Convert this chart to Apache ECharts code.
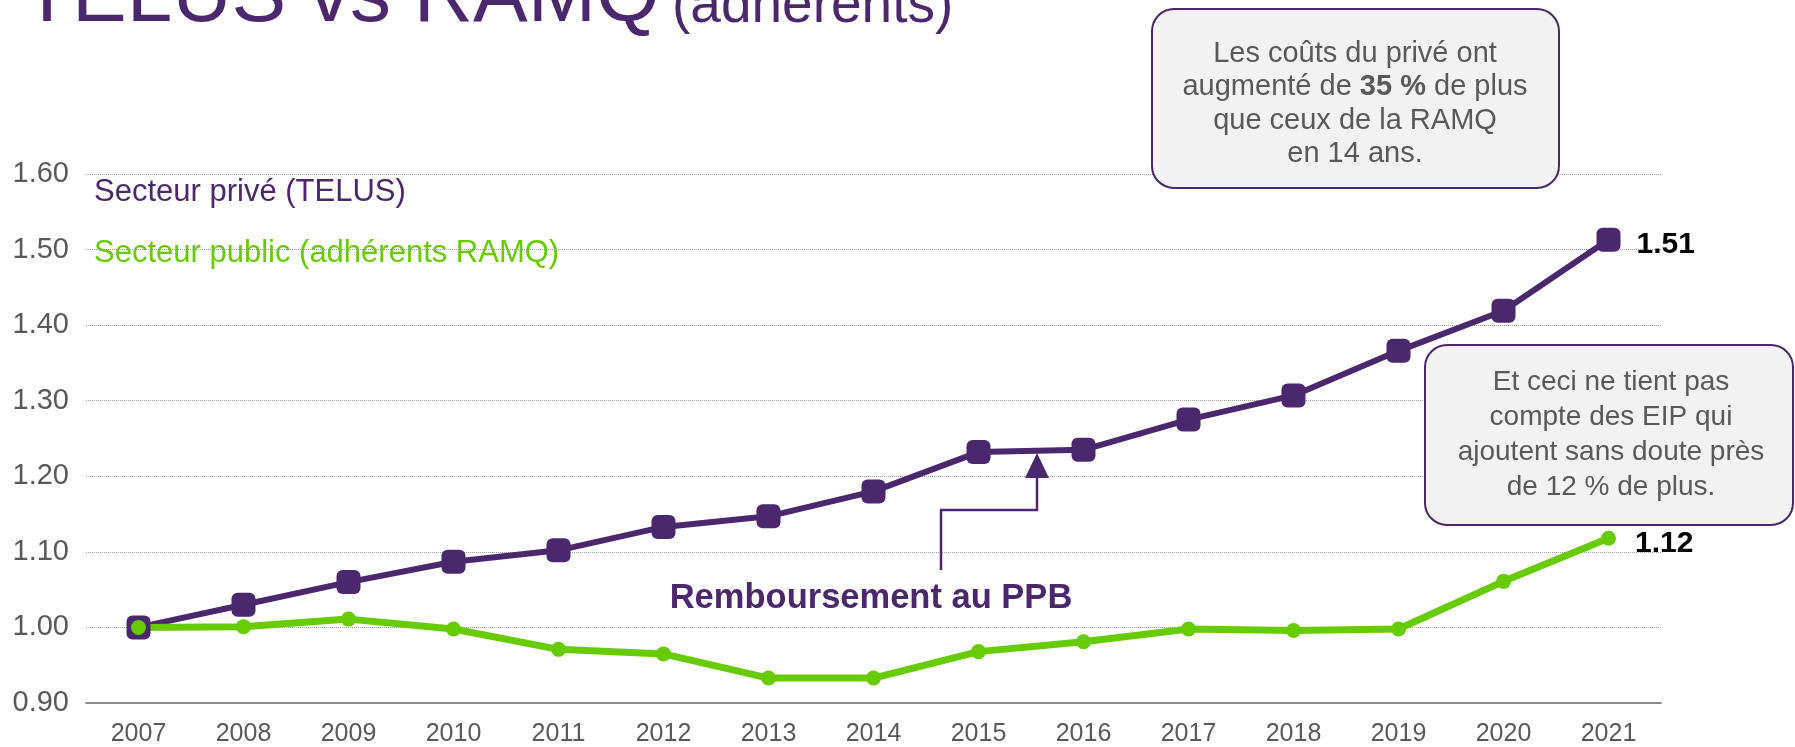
<!DOCTYPE html>
<html>
<head>
<meta charset="utf-8">
<script src="https://cdn.jsdelivr.net/npm/echarts@6/dist/echarts.min.js"></script>
<style>
	html, body { margin: 0; padding: 0; background: #fff; }
	#chart { width: 1795px; height: 747px; }
</style>
</head>
<body>
<div id="chart"></div>
<script>
// années
var years = ['2007', '2008', '2009', '2010', '2011', '2012', '2013', '2014', '2015', '2016', '2017', '2018', '2019', '2020', '2021'];
// Secteur privé (TELUS)
var telus = [1.000, 1.030, 1.060, 1.087, 1.102, 1.133, 1.147, 1.180, 1.232, 1.235, 1.275, 1.307, 1.366, 1.419, 1.513];
// Secteur public (adhérents RAMQ)
var ramq = [1.000, 1.001, 1.011, 0.998, 0.971, 0.965, 0.933, 0.933, 0.968, 0.981, 0.998, 0.996, 0.998, 1.061, 1.118];

var purple = '#4b286d';
var green = '#66cc00';
var grey = '#595959';
var font = "'Liberation Sans', Arial, sans-serif";

// étiquette seulement sur le dernier point
function withLastLabel(values, dist) {
	return values.map(function(v, i) {
		if (i !== values.length - 1) return v;
		return {
			value: v,
			label: {
				show: true,
				position: 'right',
				distance: dist,
				offset: [0, 5],
				formatter: function(p) { return p.value.toFixed(2); },
				fontFamily: font,
				fontSize: 30,
				fontWeight: 'bold',
				color: '#000'
			}
		};
	});
}

var myChart = echarts.init(document.getElementById('chart'));
var option = {
	animation: false,
	backgroundColor: '#fff',
	grid: {
		left: 86,
		right: 134,
		top: 174,
		bottom: 42.5
	},
	xAxis: {
		type: 'category',
		data: years,
		boundaryGap: true,
		axisLine: { lineStyle: { color: '#8c8c8c', width: 2 } },
		axisTick: { show: false },
		axisLabel: { color: grey, fontSize: 25, fontFamily: font, margin: 19 }
	},
	yAxis: {
		type: 'value',
		min: 0.9,
		max: 1.6,
		interval: 0.1,
		axisLine: { show: false },
		axisTick: { show: false },
		axisLabel: {
			color: grey,
			fontSize: 29,
			fontFamily: font,
			margin: 17,
			formatter: function(v) { return v.toFixed(2); }
		},
		splitLine: { lineStyle: { color: '#9a9a9a', type: 'dotted', width: 1 } }
	},
	series: [{
			name: 'Secteur privé (TELUS)',
			type: 'line',
			data: withLastLabel(telus, 16),
			symbol: 'roundRect',
			symbolSize: 24,
			color: purple,
			lineStyle: { color: purple, width: 6 },
			itemStyle: { color: purple }
		},
		{
			name: 'Secteur public (adhérents RAMQ)',
			type: 'line',
			data: withLastLabel(ramq, 19),
			symbol: 'circle',
			symbolSize: 15,
			color: green,
			lineStyle: { color: green, width: 7 },
			itemStyle: { color: green }
		}
	],
	graphic: [
		// titre
		{
			type: 'text', x: 22, y: -2,
			style: { text: 'TELUS vs RAMQ', fill: purple, font: '82px ' + font, verticalAlign: 'middle' }
		},
		{
			type: 'text', x: 672, y: 7,
			style: { text: '(adhérents)', fill: purple, font: '55px ' + font, verticalAlign: 'middle' }
		},
		// légende
		{
			type: 'text', x: 94, y: 192,
			style: { text: 'Secteur privé (TELUS)', fill: purple, font: '31px ' + font, verticalAlign: 'middle' }
		},
		{
			type: 'text', x: 94, y: 253,
			style: { text: 'Secteur public (adhérents RAMQ)', fill: green, font: '31px ' + font, verticalAlign: 'middle' }
		},
		// encadré 1
		{
			type: 'rect', z: 10,
			shape: { x: 1152, y: 9, width: 407, height: 179, r: 22 },
			style: { fill: '#f2f2f2', stroke: purple, lineWidth: 2 }
		},
		{
			type: 'text', z: 11, x: 1355, y: 104,
			style: {
				text: 'Les coûts du privé ont\naugmenté de {b|35 %} de plus\nque ceux de la RAMQ\nen 14 ans.',
				fill: grey, font: '29px ' + font, align: 'center', verticalAlign: 'middle', lineHeight: 33.6,
				rich: { b: { fontWeight: 'bold', fontSize: 29, fontFamily: font, fill: grey, lineHeight: 33.6 } }
			}
		},
		// encadré 2
		{
			type: 'rect', z: 10,
			shape: { x: 1425, y: 345, width: 368, height: 180, r: 22 },
			style: { fill: '#f2f2f2', stroke: purple, lineWidth: 2 }
		},
		{
			type: 'text', z: 11, x: 1611, y: 435,
			style: {
				text: 'Et ceci ne tient pas\ncompte des EIP qui\najoutent sans doute près\nde 12 % de plus.',
				fill: grey, font: '28px ' + font, align: 'center', verticalAlign: 'middle', lineHeight: 35
			}
		},
		// flèche PPB
		{
			type: 'polyline', z: 10,
			shape: { points: [[941, 570], [941, 510], [1037, 510], [1037, 476]] },
			style: { stroke: purple, lineWidth: 2.5, fill: null }
		},
		{
			type: 'polygon', z: 10,
			shape: { points: [[1025, 478], [1049, 478], [1037, 453]] },
			style: { fill: purple }
		},
		{
			type: 'text', z: 10, x: 871, y: 598,
			style: { text: 'Remboursement au PPB', fill: purple, font: 'bold 34.5px ' + font, align: 'center', verticalAlign: 'middle' }
		}
	]
};
myChart.setOption(option);

window.onresize = function() {
	myChart.resize();
};
</script>
</body>
</html>
